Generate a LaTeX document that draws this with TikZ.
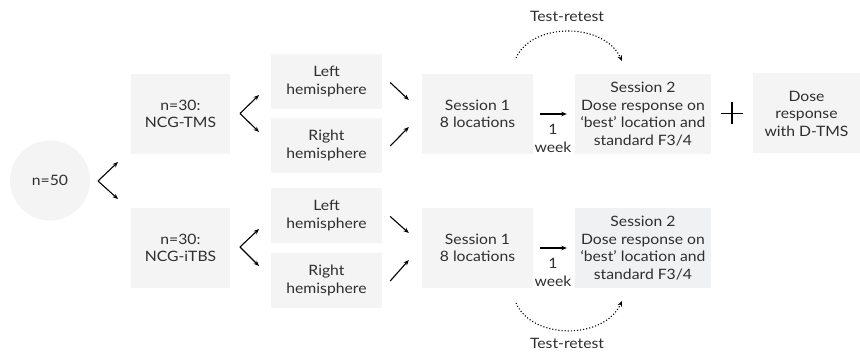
\documentclass[tikz,border=0pt]{standalone}
\usepackage{fontspec}
\setmainfont{Lato}[FakeStretch=1.1]
\usetikzlibrary{arrows.meta}
\definecolor{boxgray}{HTML}{F4F4F4}
\definecolor{boxblue}{HTML}{F0F1F3}
\definecolor{txt}{HTML}{2E2E2E}
\begin{document}
\begin{tikzpicture}[x=1pt,y=-1pt,
  every node/.style={font=\fontsize{14.3}{17.5}\selectfont, text=txt, align=center, inner sep=0pt},
  gbox/.style={fill=boxgray, draw=none},
  arr/.style={line width=1.1pt, -{Stealth[length=5.5pt,width=4.5pt]}},
  dotarr/.style={line width=1.1pt, dotted, -{Stealth[length=5.5pt,width=4.5pt]}}]
\useasboundingbox (0,0) rectangle (860,352);
% start
\node[gbox, circle, minimum size=80pt] (n50) at (50,180.5) {n=50};
% groups
\node[gbox, minimum width=99pt, minimum height=80pt] (tms) at (180.5,114) {n=30:\\NCG-TMS};
\node[gbox, minimum width=99pt, minimum height=80pt] (itbs) at (180.5,248) {n=30:\\NCG-iTBS};
% hemispheres
\node[gbox, minimum width=111pt, minimum height=55pt] (lh1) at (326.5,81.5) {Left\\hemisphere};
\node[gbox, minimum width=111pt, minimum height=55pt] (rh1) at (326.5,145.5) {Right\\hemisphere};
\node[gbox, minimum width=111pt, minimum height=55pt] (lh2) at (326.5,215.5) {Left\\hemisphere};
\node[gbox, minimum width=111pt, minimum height=55pt] (rh2) at (326.5,280.5) {Right\\hemisphere};
% sessions
\node[gbox, minimum width=111pt, minimum height=80pt] (s1a) at (477.5,114) {Session 1\\8 locations};
\node[gbox, minimum width=111pt, minimum height=80pt] (s1b) at (477.5,248) {Session 1\\8 locations};
\node[gbox, minimum width=136pt, minimum height=80pt] (s2a) at (643,114) {Session 2\\Dose response on\\‘best’ location and\\standard F3/4};
\node[fill=boxblue, minimum width=136pt, minimum height=80pt] (s2b) at (643,248) {Session 2\\Dose response on\\‘best’ location and\\standard F3/4};
\node[gbox, minimum width=107pt, minimum height=80pt] (dtms) at (806.5,113.5) {Dose\\response\\with D-TMS};
% week labels
\node (w1) at (553,138.5) {1\\week};
\node (w2) at (553,272.5) {1\\week};
% test-retest labels
\node (tr1) at (567,16) {Test-retest};
\node (tr2) at (567,343) {Test-retest};
% fork points
\coordinate (v0) at (98,181);
\coordinate (t0a) at (118,162);
\coordinate (t0b) at (118,199);
\coordinate (v1) at (240,113.5);
\coordinate (t1a) at (259,95);
\coordinate (t1b) at (259,132);
\coordinate (v2) at (240,247);
\coordinate (t2a) at (259,229);
\coordinate (t2b) at (259,266);
% connectors
\draw[arr] (v0) -- (t0a);
\draw[arr] (v0) -- (t0b);
\draw[arr] (v1) -- (t1a);
\draw[arr] (v1) -- (t1b);
\draw[arr] (v2) -- (t2a);
\draw[arr] (v2) -- (t2b);
\draw[arr] ([shift={(8,1)}]lh1.east) -- ([shift={(-13,-14)}]s1a.west);
\draw[arr] ([shift={(8,0.5)}]rh1.east) -- ([shift={(-13,13)}]s1a.west);
\draw[arr] ([shift={(8,1)}]lh2.east) -- ([shift={(-13,-15)}]s1b.west);
\draw[arr] ([shift={(8,0.5)}]rh2.east) -- ([shift={(-13,12)}]s1b.west);
\draw[arr] ([xshift=7pt]s1a.east) -- ([xshift=-8pt]s2a.west);
\draw[arr] ([xshift=7pt]s1b.east) -- ([xshift=-8pt]s2b.west);
% plus
\coordinate (plus) at (732,113.5);
\draw[line width=1.1pt] ([xshift=-11pt]plus) -- ([xshift=11pt]plus)
  ([yshift=-11pt]plus) -- ([yshift=11pt]plus);
% test-retest arcs
\coordinate (ta0) at (516,58);
\coordinate (ta1) at (622,61);
\coordinate (tb0) at (516,303);
\coordinate (tb1) at (622,301);
\draw[dotarr] (ta0) .. controls (532,22) and (604,22) .. (ta1);
\draw[dotarr] (tb0) .. controls (532,340) and (604,340) .. (tb1);
\end{tikzpicture}
\end{document}
